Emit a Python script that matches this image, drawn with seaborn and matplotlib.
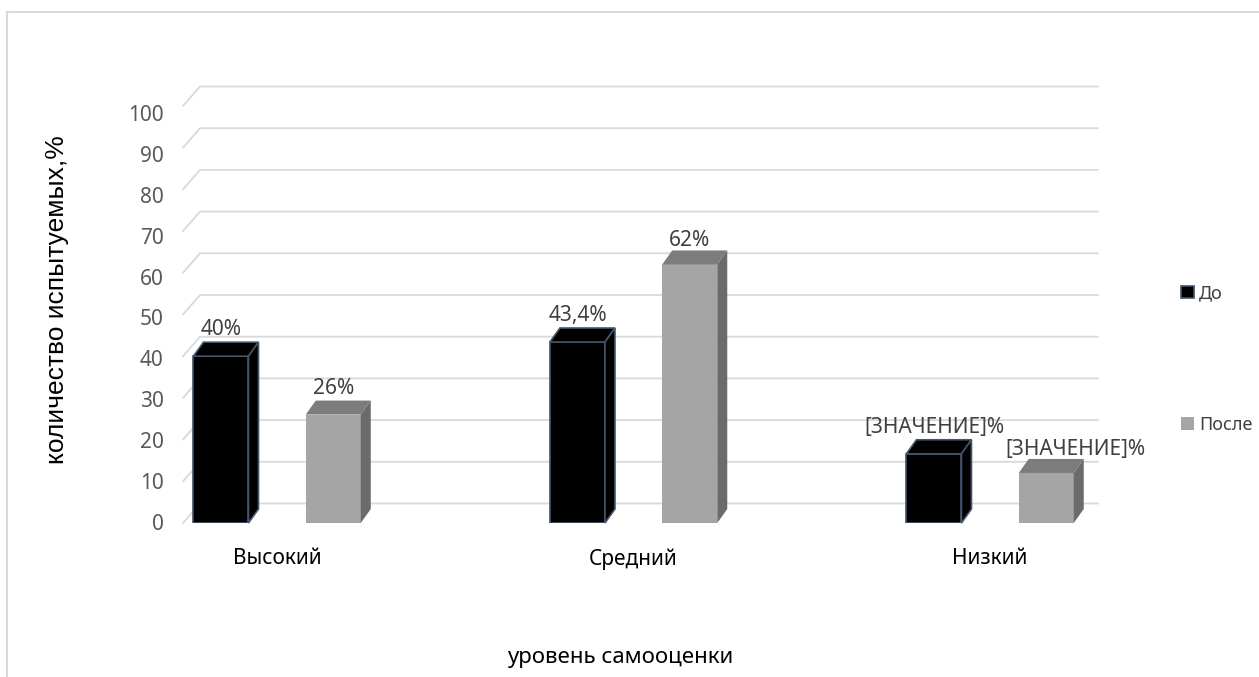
import matplotlib
matplotlib.use("Agg")
import matplotlib.pyplot as plt
from matplotlib.patches import Polygon, Rectangle, Patch
import seaborn as sns
import pandas as pd

# данные
levels = ["Высокий", "Средний", "Низкий"]
series = ["До", "После"]
before = [40, 43.4, 16.6]
after = [26, 62, 12]
labels_before = ["40%", "43,4%", "[ЗНАЧЕНИЕ]%"]
labels_after = ["26%", "62%", "[ЗНАЧЕНИЕ]%"]
y_ticks = [0, 10, 20, 30, 40, 50, 60, 70, 80, 90, 100]

df = pd.DataFrame({
    "level": levels * 2,
    "value": before + after,
    "series": [series[0]] * 3 + [series[1]] * 3,
})

sns.set_theme(style="white")
plt.rcParams["font.family"] = ["Noto Sans", "DejaVu Sans"]

W, H = 1259, 677
fig = plt.figure(figsize=(W / 100, H / 100), dpi=100)
pos = [183 / W, 1 - 523 / H, (1081 - 183) / W, 417 / H]
ax = fig.add_axes(pos)

sns.barplot(data=df, x="level", y="value", hue="series", order=levels,
            hue_order=series, palette=["#000000", "#a5a5a5"], saturation=1,
            width=0.63, gap=0.51, dodge=True, legend=False, ax=ax, zorder=3)

ax.set_xlim(-0.264, 2.255)
ax.set_ylim(0, 100)
for s in ax.spines.values():
    s.set_visible(False)
ax.set_facecolor("none")
ax.grid(False)
ax.set_xlabel("")
ax.set_ylabel("")
ax.set_yticks(y_ticks)
ax.tick_params(axis="y", length=0, labelleft=False)
ax.tick_params(axis="x", length=0, pad=18, labelsize=15, labelcolor="#000000")

# подписи шкалы в Excel стоят между передней и задней стенкой (чуть сжаты)
ax_t = fig.add_axes(pos)
ax_t.set_ylim(-0.245, 101.71)
ax_t.set_yticks(y_ticks)
ax_t.set_xticks([])
ax_t.patch.set_visible(False)
for s in ax_t.spines.values():
    s.set_visible(False)
ax_t.tick_params(axis="y", length=0, pad=14, labelsize=15, labelcolor="#595959")


def shift(x, y, dx, dy):
    px = ax.transData.transform((x, y))
    return tuple(ax.transData.inverted().transform((px[0] + dx, px[1] + dy)))


# задняя стенка / сетка псевдо-3D
xl0, xl1 = ax.get_xlim()
for v in y_ticks:
    p1 = shift(xl0, v, 17, 19.5)
    p2 = shift(xl1, v, 17, 19.5)
    ax.plot([xl0, p1[0], p2[0]], [v, p1[1], p2[1]], color="#d9d9d9",
            lw=1.3, zorder=1, clip_on=False)

# объём столбиков
dx, dy = 10, 14
bars = list(ax.patches)
for i, bar in enumerate(bars):
    x0, w, h = bar.get_x(), bar.get_width(), bar.get_height()
    top = [(x0, h), (x0 + w, h), shift(x0 + w, h, dx, dy), shift(x0, h, dx, dy)]
    side = [(x0 + w, 0), (x0 + w, h), shift(x0 + w, h, dx, dy), shift(x0 + w, 0, dx, dy)]
    if i < 3:
        bar.set_edgecolor("#44546a")
        bar.set_linewidth(1.2)
        for pts in (top, side):
            ax.add_patch(Polygon(pts, closed=True, fc="#000000", ec="#44546a",
                                 lw=1.2, zorder=3, clip_on=False))
    else:
        bar.set_linewidth(0)
        ax.add_patch(Polygon(top, closed=True, fc="#7c7c7c", lw=0, zorder=3, clip_on=False))
        ax.add_patch(Polygon(side, closed=True, fc="#6b6b6b", lw=0, zorder=3, clip_on=False))

# подписи значений
texts = labels_before + labels_after
for i, (bar, t) in enumerate(zip(bars, texts)):
    shift_x = 21 if i == 5 else 0
    shift_y = 17 if i in (4, 5) else 19
    ax.annotate(t, (bar.get_x() + bar.get_width() / 2, bar.get_height()),
                xytext=(shift_x, shift_y), textcoords="offset points",
                ha="center", va="center", fontsize=15, color="#404040",
                zorder=5, annotation_clip=False)

# легенда
handles = [Patch(fc="#000000", ec="#44546a", lw=1.2), Patch(fc="#a5a5a5", lw=0)]
fig.legend(handles, series, loc="upper left", bbox_to_anchor=(1165 / W, 1 - 268 / H),
           frameon=False, fontsize=13, handlelength=0.7, handleheight=0.7,
           handletextpad=0.3, labelspacing=6.3, labelcolor="#404040")

# подписи осей
fig.text(620 / W, 1 - 658 / H, "уровень самооценки", ha="center", va="center",
         fontsize=16, color="#000000")
fig.text(57 / W, 1 - 300 / H, "количество испытуемых,%", ha="center", va="center",
         rotation=90, fontsize=19, color="#000000", family=["Liberation Sans", "DejaVu Sans"])

# рамка области диаграммы
fig.add_artist(Rectangle((7 / W, -0.1), 1.2, 1.1 - 12 / H, transform=fig.transFigure,
                         fill=False, ec="#d9d9d9", lw=1.5))

fig.savefig("out.png", dpi=100)
